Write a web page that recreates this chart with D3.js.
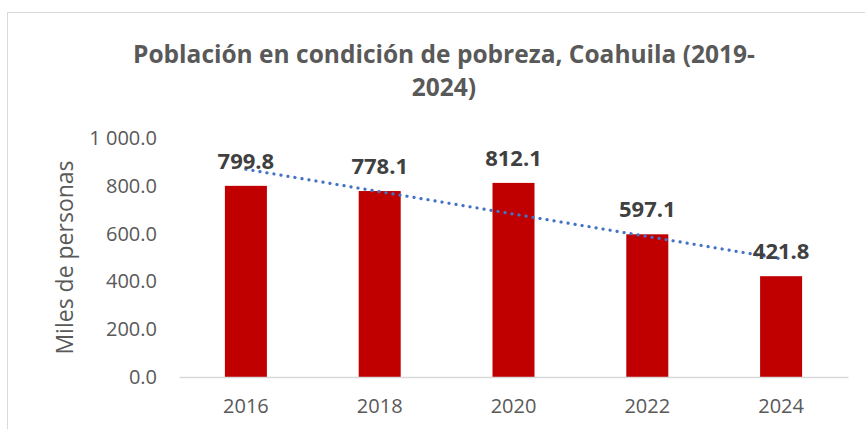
<!DOCTYPE html>
<html>
<head>
<meta charset="utf-8">
<script src="https://cdn.jsdelivr.net/npm/d3@7"></script>
<style>
  body { margin: 0; background: #fff; }
  text { font-family: 'Open Sans', sans-serif; }
</style>
</head>
<body>
<div id="chart"></div>
<script>
const years = ['2016', '2018', '2020', '2022', '2024']
const values = [799.8, 778.1, 812.1, 597.1, 421.8]
const yTicks = [0, 200, 400, 600, 800, 1000]
const titleLines = ['Población en condición de pobreza, Coahuila (2019-', '2024)']
const yLabel = 'Miles de personas'

const width = 865, height = 429
const margin = { top: 138, right: 17, bottom: 52, left: 179 }

const svg = d3.select('#chart').append('svg')
    .attr('width', width)
    .attr('height', height)

// chart frame
svg.append('rect')
    .attr('x', 7.5).attr('y', 12.5)
    .attr('width', 880).attr('height', 430)
    .attr('fill', 'none')
    .attr('stroke', '#d9d9d9')

let x = d3.scaleBand()
    .domain(years)
    .range([margin.left, width - margin.right])
    .paddingInner(0.686)
    .paddingOuter(0.343)

let y = d3.scaleLinear()
    .domain([0, 1000])
    .range([height - margin.bottom, margin.top])

const fmt = v => {
  const s = d3.format('.1f')(v)
  const [i, d] = s.split('.')
  return i.replace(/\B(?=(\d{3})+(?!\d))/g, ' ') + '.' + d
}

// title
svg.append('text')
    .attr('x', 444)
    .attr('y', 63)
    .attr('text-anchor', 'middle')
    .attr('fill', '#595959')
    .attr('font-size', 24.5)
    .attr('font-weight', 'bold')
    .selectAll('tspan')
    .data(titleLines)
    .join('tspan')
    .attr('x', 444)
    .attr('dy', (d, i) => i ? 33 : 0)
    .text(d => d)

// y axis
let yAxis = svg.append('g')
    .attr('transform', 'translate(' + margin.left + ',0)')
    .call(d3.axisLeft(y).tickValues(yTicks).tickFormat(fmt).tickSize(0).tickPadding(22))
yAxis.select('.domain').remove()
yAxis.selectAll('text')
    .attr('fill', '#595959')
    .attr('font-size', 20)

svg.append('text')
    .attr('transform', 'translate(73,' + y(500) + ') rotate(-90)')
    .attr('text-anchor', 'middle')
    .attr('fill', '#595959')
    .attr('font-size', 23)
    .text(yLabel)

// bars
svg.append('g').selectAll('rect')
    .data(values)
    .join('rect')
    .attr('x', (d, i) => x(years[i]))
    .attr('y', d => y(d))
    .attr('width', x.bandwidth())
    .attr('height', d => y(0) - y(d))
    .attr('fill', '#c00000')

// x axis
let xAxis = svg.append('g')
    .attr('transform', 'translate(0,' + y(0) + ')')
    .call(d3.axisBottom(x).tickSize(0).tickPadding(22))
xAxis.select('.domain')
    .attr('stroke', '#d9d9d9')
    .attr('stroke-width', 1.5)
xAxis.selectAll('text')
    .attr('fill', '#595959')
    .attr('font-size', 20)

// linear trendline
const n = values.length
const xs = d3.range(1, n + 1)
const mx = d3.mean(xs), my = d3.mean(values)
const slope = d3.sum(xs, (v, i) => (v - mx) * (values[i] - my)) / d3.sum(xs, v => (v - mx) ** 2)
const intercept = my - slope * mx

let trend = d3.line()
    .x(d => x(years[d - 1]) + x.bandwidth() / 2)
    .y(d => y(intercept + slope * d))

svg.append('path')
    .datum([1, n])
    .attr('fill', 'none')
    .attr('stroke', '#4472c4')
    .attr('stroke-width', 3.2)
    .attr('stroke-linecap', 'round')
    .attr('stroke-dasharray', '0.1 7')
    .attr('d', trend)

// data labels
svg.append('g').selectAll('text')
    .data(values)
    .join('text')
    .attr('x', (d, i) => x(years[i]) + x.bandwidth() / 2)
    .attr('y', d => y(d) - 17)
    .attr('text-anchor', 'middle')
    .attr('fill', '#404040')
    .attr('font-size', 22)
    .attr('font-weight', 'bold')
    .text(d => fmt(d))
</script>
</body>
</html>
